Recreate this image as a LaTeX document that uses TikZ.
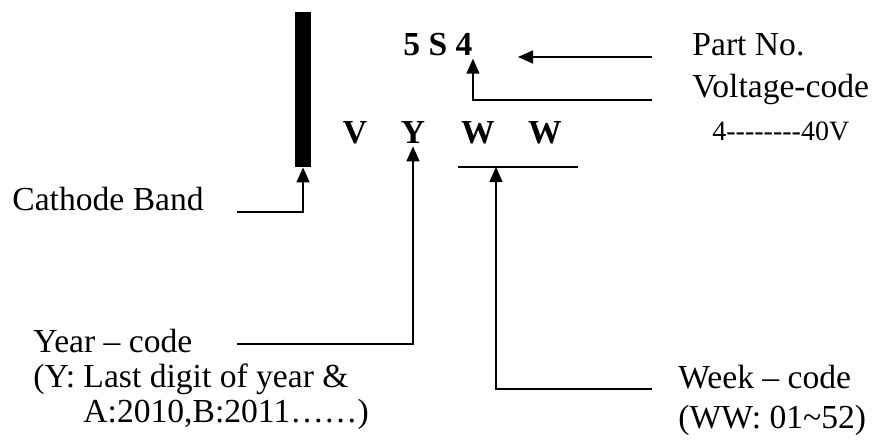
\documentclass[tikz,border=0pt]{standalone}
\usepackage{fontspec}
\setmainfont{Liberation Serif}
\usetikzlibrary{arrows.meta}
\tikzset{
  lbl/.style = {anchor=base west, inner sep=0pt, font=\fontsize{16.8}{20}\selectfont},
  code/.style = {anchor=base, inner sep=1.5pt, font=\fontsize{16.8}{20}\selectfont\bfseries},
  arr/.style = {line width=0.75pt, -{Triangle[length=7.5pt, width=6.5pt]}}
}

\begin{document}
\begin{tikzpicture}[x=0.5pt, y=-0.5pt]
\useasboundingbox (0,0) rectangle (876,445);
%marking
\node[fill=black, inner sep=0pt, minimum width=8pt, minimum height=77.5pt] (band) at (303,89.5) {};
\node[code, inner xsep=0pt] (part) at (438,55) {5 S 4};
\foreach \x/\l/\n in {355/V/v, 413/Y/y, 478/W/wa, 545/W/wb} {\node[code] (\n) at (\x,143) {\l};}
\draw[line width=0.75pt] (458,167) coordinate (ula) -- (578,167) coordinate (ulb);
\coordinate (ultip) at (496,167);
%labels
\node[lbl] (pn) at (692,55) {Part No.};
\node[lbl] (vc) at (692,97) {Voltage-code};
\node[lbl, font=\fontsize{14}{17}\selectfont] (vr) at (712,140) {4{-}{-}{-}{-}{-}{-}{-}{-}40V};
\node[lbl] (cb) at (12,210) {Cathode Band};
\node[lbl] (yc) at (33,352) {Year -- code};
\node[lbl] (yd1) at (33,387) {(Y: Last digit of year \&};
\node[lbl] (yd2) at (83,422) {A:2010,B:2011\dots\dots)};
\node[lbl] (wc) at (678,388) {Week -- code};
\node[lbl] (wd) at (678,428) {(WW: 01\textasciitilde52)};
%connectors
\coordinate (pnend) at (652,57);
\coordinate (pntip) at (518,57);
\coordinate (vcend) at (652,100);
\coordinate (cbend) at (237,212);
\coordinate (ycend) at (237,344);
\coordinate (wcend) at (652,389);
\draw[arr] (pnend) -- (pntip);
\draw[arr] (vcend) -| (part.south east);
\draw[arr] (cbend) -| (band.south);
\draw[arr] (ycend) -| (y.south);
\draw[arr] (wcend) -| (ultip);
\end{tikzpicture}
\end{document}
